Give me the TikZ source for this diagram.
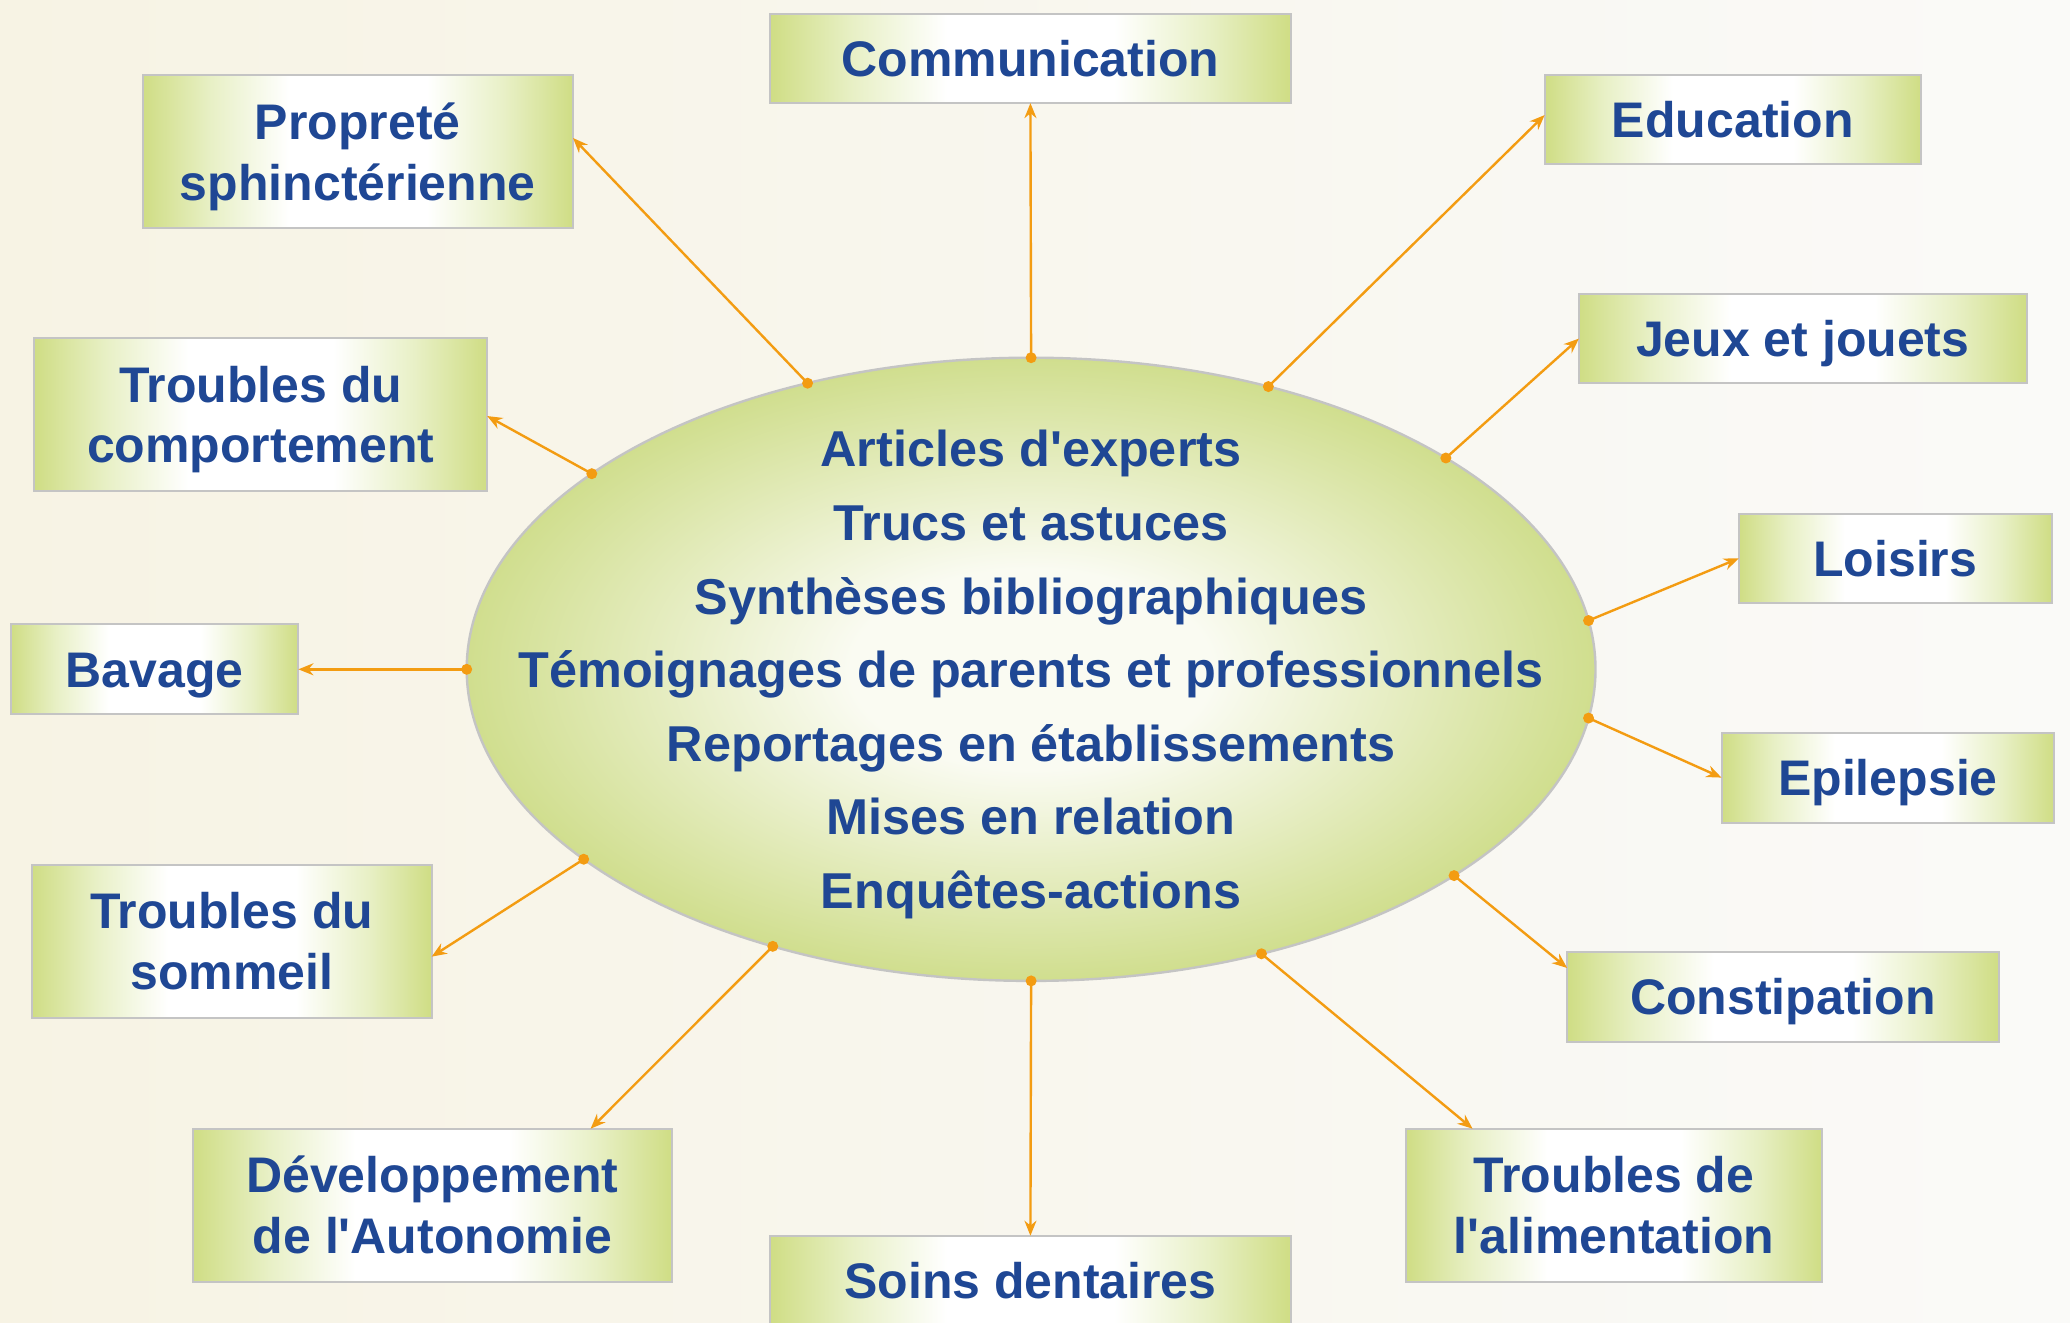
\documentclass[tikz,border=0pt]{standalone}
\usepackage{fontspec}
\setmainfont{Liberation Sans}[Ligatures=TeXOff]
\usetikzlibrary{calc,arrows.meta,shapes.geometric}
\definecolor{txtblue}{RGB}{31,71,148}
\definecolor{arrorange}{RGB}{243,156,18}
\definecolor{boxgreen}{RGB}{207,221,132}
\definecolor{boxmid}{RGB}{232,240,198}
\definecolor{ellgreen}{RGB}{208,222,142}
\definecolor{ellinner}{RGB}{250,251,242}
\definecolor{bordgray}{RGB}{196,196,196}
\definecolor{bgcream}{RGB}{247,243,228}
\definecolor{bgwhite}{RGB}{250,250,248}
\pgfdeclarehorizontalshading{boxshade}{100bp}{color(0bp)=(boxgreen); color(25bp)=(boxgreen); color(33bp)=(boxmid); color(42bp)=(white); color(58bp)=(white); color(67bp)=(boxmid); color(75bp)=(boxgreen); color(100bp)=(boxgreen)}
\pgfdeclareradialshading{ellshade}{\pgfpoint{0bp}{0bp}}{color(0bp)=(ellinner); color(8bp)=(ellinner); color(25bp)=(ellgreen); color(50bp)=(ellgreen)}
\newcommand\tstrut{\rule[-6pt]{0pt}{30pt}}
\begin{document}
\begin{tikzpicture}[x=0.5pt,y=-0.5pt,
  topic/.style={draw=bordgray, line width=1pt, shading=boxshade, inner sep=0pt, outer sep=0pt,
    align=center, text=txtblue, font=\fontsize{25}{30.4}\selectfont\bfseries},
  link/.style={draw=arrorange, line width=1.2pt, -{Stealth[length=7.5pt,width=6pt]}},
  dotmark/.style={circle, fill=arrorange, inner sep=0pt, minimum size=5.5pt}]
\clip (0,0) rectangle (2070,1322);
\useasboundingbox (0,0) rectangle (2070,1322);
\fill[left color=bgcream, right color=bgwhite] (0,0) rectangle (2070,1322);

% central ellipse
\node[ellipse, draw=bordgray, line width=1.2pt, shading=ellshade,
  minimum width=564.4pt, minimum height=311.6pt, inner sep=0pt, outer sep=0pt] (ell) at (1031.1,669.3) {};
\node[align=center, text=txtblue, font=\fontsize{25.2}{36.8}\selectfont\bfseries] (lines) at (1031,674.7)
  {Articles d'experts\\Trucs et astuces\\Synthèses bibliographiques\\Témoignages de parents et professionnels\\Reportages en établissements\\Mises en relation\\Enquêtes-actions};

% topic boxes
\node[topic, minimum width=260.8pt, minimum height=44.3pt] (comm) at (1030.4,58.8) {\tstrut Communication};
\node[topic, minimum width=215.2pt, minimum height=76.6pt] (prop) at (357.8,151.8) {\tstrut Propreté\\\tstrut sphinctérienne};
\node[topic, minimum width=188.2pt, minimum height=44.2pt] (edu) at (1732.8,119.5) {\tstrut Education};
\node[topic, minimum width=226.5pt, minimum height=76.6pt] (comp) at (260.7,414.5) {\tstrut Troubles du\\\tstrut comportement};
\node[topic, minimum width=223.8pt, minimum height=44.3pt] (jeux) at (1802.7,338.6) {\tstrut Jeux et jouets};
\node[topic, minimum width=156.5pt, minimum height=44.9pt] (lois) at (1895.2,558.4) {\tstrut Loisirs};
\node[topic, minimum width=143.9pt, minimum height=44.9pt] (bav) at (154.5,669.3) {\tstrut Bavage};
\node[topic, minimum width=166.4pt, minimum height=44.9pt] (epi) at (1887.9,777.6) {\tstrut Epilepsie};
\node[topic, minimum width=200pt, minimum height=76.6pt] (somm) at (231.7,941.3) {\tstrut Troubles du\\\tstrut sommeil};
\node[topic, minimum width=215.9pt, minimum height=44.9pt] (cons) at (1783,996.7) {\tstrut Constipation};
\node[topic, minimum width=239.7pt, minimum height=76.6pt] (dev) at (432.4,1205.3) {\tstrut Développement\\\tstrut de l'Autonomie};
\node[topic, minimum width=208pt, minimum height=76.6pt] (alim) at (1614,1205.3) {\tstrut Troubles de\\\tstrut l'alimentation};
\node[topic, minimum width=260.8pt, minimum height=44.3pt] (soins) at (1030.4,1280) {\tstrut Soins dentaires};

% connectors
\draw[link] (ell.90) -- (comm.south);
\draw[link] (ell.128.25) -- ($(prop.north east)!0.41!(prop.south east)$);
\draw[link] (ell.50.7) -- ($(edu.north west)!0.45!(edu.south west)$);
\draw[link] (ell.156.8) -- ($(comp.north east)!0.51!(comp.south east)$);
\draw[link] (ell.27.8) -- (jeux.west);
\draw[link] (ell.5.4) -- (lois.west);
\draw[link] (ell.180) -- (bav.east);
\draw[link] (ell.-5.0) -- (epi.west);
\draw[link] (ell.203.0) -- ($(somm.north east)!0.6!(somm.south east)$);
\draw[link] (ell.-26.4) -- ($(cons.north west)!0.18!(cons.south west)$);
\draw[link] (ell.227.6) -- ($(dev.north west)!0.83!(dev.north east)$);
\draw[link] (ell.-51.9) -- ($(alim.north west)!0.16!(alim.north east)$);
\draw[link] (ell.270) -- (soins.north);

% dots on ellipse
\foreach \a in {90,128.25,50.7,156.8,27.8,5.4,180,-5.0,203.0,-26.4,227.6,-51.9,270}
  \node[dotmark] at (ell.\a) {};
\end{tikzpicture}
\end{document}
